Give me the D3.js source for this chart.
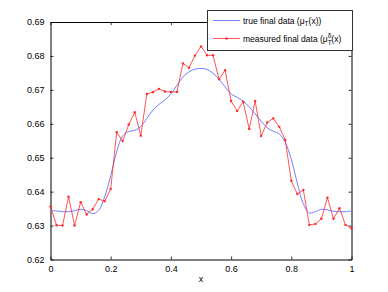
<!DOCTYPE html>
<html>
<head>
<meta charset="utf-8">
<script src="https://cdn.jsdelivr.net/npm/d3@7"></script>
<style>
  html, body { margin: 0; padding: 0; background: #fff; }
  svg { display: block; }
  text { font-family: "Liberation Sans", Arial, Helvetica, sans-serif; fill: #000; }
</style>
</head>
<body>
<svg id="chart" width="388" height="292"></svg>
<script>
// x positions (0 .. 1 step 0.02)
const xValues = [0,0.02,0.04,0.06,0.08,0.10,0.12,0.14,0.16,0.18,0.20,0.22,0.24,0.26,0.28,0.30,0.32,0.34,0.36,0.38,0.40,0.42,0.44,0.46,0.48,0.50,0.52,0.54,0.56,0.58,0.60,0.62,0.64,0.66,0.68,0.70,0.72,0.74,0.76,0.78,0.80,0.82,0.84,0.86,0.88,0.90,0.92,0.94,0.96,0.98,1.00];

// true final data mu_T(x)
const trueValues = [0.6345,0.6343,0.6341,0.6341,0.6344,0.6348,0.6344,0.6335,0.6345,0.6385,0.6447,0.6518,0.6565,0.6577,0.6581,0.6592,0.6616,0.6640,0.6657,0.6670,0.6688,0.6713,0.6738,0.6753,0.6761,0.6763,0.6760,0.6749,0.6731,0.6709,0.6688,0.6678,0.6667,0.6650,0.6629,0.6608,0.6588,0.6578,0.6570,0.6545,0.6495,0.6425,0.6364,0.6337,0.6341,0.6348,0.6346,0.6342,0.6341,0.6341,0.6343];

// measured final data mu_T^delta(x)
const measuredValues = [0.6356,0.6301,0.6300,0.6385,0.6300,0.6369,0.6333,0.6348,0.6378,0.6372,0.6408,0.6575,0.6549,0.6598,0.6634,0.6565,0.6688,0.6693,0.6703,0.6695,0.6694,0.6694,0.6778,0.6765,0.6801,0.6828,0.6802,0.6802,0.6731,0.6758,0.6667,0.6638,0.6665,0.6585,0.6667,0.6564,0.6604,0.6616,0.6591,0.6552,0.6432,0.6393,0.6405,0.6302,0.6305,0.6320,0.6382,0.6320,0.6351,0.6302,0.6292];

const xTicks = [0, 0.2, 0.4, 0.6, 0.8, 1];
const xTickLabels = ["0", "0.2", "0.4", "0.6", "0.8", "1"];
const yTicks = [0.62, 0.63, 0.64, 0.65, 0.66, 0.67, 0.68, 0.69];
const yTickLabels = ["0.62", "0.63", "0.64", "0.65", "0.66", "0.67", "0.68", "0.69"];

const svg = d3.select("#chart");
const L = 50.5, R = 351.5, T = 22, B = 259.5;

const x = d3.scaleLinear().domain([0, 1]).range([L, R]);
const y = d3.scaleLinear().domain([0.62, 0.69]).range([B, T]);

// axes (MATLAB-like box with inward ticks)
const fs = 9;
const bottomAxis = d3.axisBottom(x).tickValues(xTicks).tickSizeInner(-3).tickSizeOuter(0)
  .tickFormat((d, i) => xTickLabels[i]).tickPadding(6);
const topAxis = d3.axisTop(x).tickValues(xTicks).tickSizeInner(-3).tickSizeOuter(0).tickFormat("");
const leftAxis = d3.axisLeft(y).tickValues(yTicks).tickSizeInner(-3).tickSizeOuter(0)
  .tickFormat((d, i) => yTickLabels[i]).tickPadding(6);
const rightAxis = d3.axisRight(y).tickValues(yTicks).tickSizeInner(-3).tickSizeOuter(0).tickFormat("");

function styleAxis(g) {
  g.select(".domain").attr("stroke", "#000").attr("stroke-width", 1);
  g.selectAll(".tick line").attr("stroke", "#000").attr("stroke-width", 0.8);
  g.selectAll(".tick text").attr("font-size", fs).attr("font-family", "Liberation Sans, Arial, sans-serif").attr("fill", "#000");
}

svg.append("g").attr("transform", `translate(0,${B})`).call(bottomAxis).call(styleAxis);
svg.append("g").attr("transform", `translate(0,${T})`).call(topAxis).call(styleAxis);
svg.append("g").attr("transform", `translate(${L},0)`).call(leftAxis).call(styleAxis);
svg.append("g").attr("transform", `translate(${R},0)`).call(rightAxis).call(styleAxis);

// x label
svg.append("text").attr("x", (L + R) / 2).attr("y", 282).attr("text-anchor", "middle")
  .attr("font-size", fs).text("x");

const data = xValues.map((d, i) => ({ x: d, t: trueValues[i], m: measuredValues[i] }));

const blue = "#6070ff";
const red = "#ff2a2a";

svg.append("path").datum(data)
  .attr("fill", "none").attr("stroke", blue).attr("stroke-width", 0.9)
  .attr("d", d3.line().x(d => x(d.x)).y(d => y(d.t)).curve(d3.curveCatmullRom));

svg.append("path").datum(data)
  .attr("fill", "none").attr("stroke", red).attr("stroke-width", 0.8)
  .attr("d", d3.line().x(d => x(d.x)).y(d => y(d.m)));

svg.append("g").selectAll("circle").data(data).join("circle")
  .attr("cx", d => x(d.x)).attr("cy", d => y(d.m)).attr("r", 1.2).attr("fill", red);

// legend
const lg = svg.append("g");
lg.append("rect").attr("x", 207.5).attr("y", 10.5).attr("width", 145).attr("height", 40)
  .attr("fill", "#fff").attr("stroke", "#333").attr("stroke-width", 1);
lg.append("line").attr("x1", 213).attr("x2", 240).attr("y1", 20.5).attr("y2", 20.5)
  .attr("stroke", blue).attr("stroke-width", 0.9);
lg.append("line").attr("x1", 213).attr("x2", 240).attr("y1", 38.5).attr("y2", 38.5)
  .attr("stroke", red).attr("stroke-width", 0.8);
lg.append("circle").attr("cx", 226.5).attr("cy", 38.5).attr("r", 1.2).attr("fill", red);

const t1 = lg.append("text").attr("x", 243).attr("y", 23.5).attr("font-size", 8.5);
t1.append("tspan").text("true final data (μ");
t1.append("tspan").attr("font-size", 6.5).attr("dy", 2.5).text("T");
t1.append("tspan").attr("dy", -2.5).text("(x))");

const clip = svg.append("clipPath").attr("id", "lgclip");
clip.append("rect").attr("x", 207.5).attr("y", 10.5).attr("width", 145).attr("height", 40);
const t2 = lg.append("text").attr("x", 243).attr("y", 41.5).attr("font-size", 8.5)
  .attr("clip-path", "url(#lgclip)");
t2.append("tspan").text("measured final data (μ");
t2.append("tspan").attr("font-size", 6.5).attr("dy", 3).text("T");
t2.append("tspan").attr("font-size", 6.5).attr("dx", -4).attr("dy", -7).text("δ");
t2.append("tspan").attr("dy", 4).text("(x)");
</script>
</body>
</html>
